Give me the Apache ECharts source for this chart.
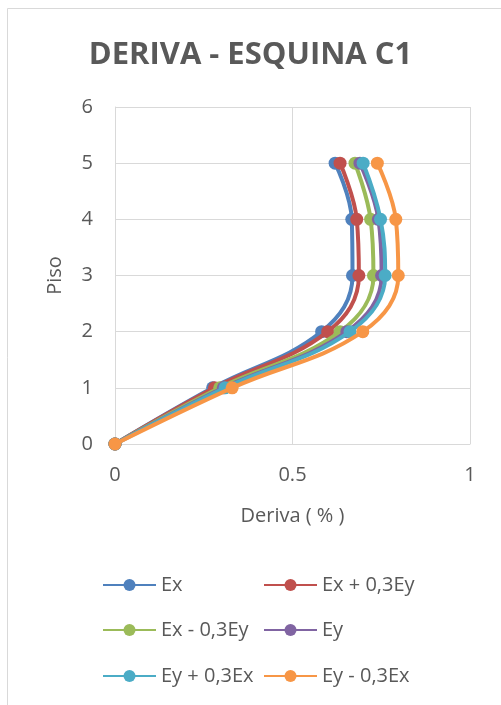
<!DOCTYPE html>
<html>
<head>
<meta charset="utf-8">
<script src="https://cdn.jsdelivr.net/npm/echarts@6/dist/echarts.min.js"></script>
<style>html,body{margin:0;padding:0;background:#fff}#c{width:501px;height:705px}</style>
</head>
<body>
<div id="c"></div>
<script>
var pisos = [0, 1, 2, 3, 4, 5];
var seriesNames = ['Ex', 'Ex + 0,3Ey', 'Ex - 0,3Ey', 'Ey', 'Ey + 0,3Ex', 'Ey - 0,3Ex'];
var ex      = [0, 0.275, 0.582, 0.669, 0.667, 0.620];
var exP03ey = [0, 0.280, 0.599, 0.687, 0.681, 0.634];
var exM03ey = [0, 0.295, 0.634, 0.728, 0.720, 0.676];
var ey      = [0, 0.305, 0.653, 0.751, 0.742, 0.690];
var eyP03ex = [0, 0.310, 0.662, 0.761, 0.748, 0.699];
var eyM03ex = [0, 0.330, 0.698, 0.798, 0.791, 0.739];
var xTicks = [0, 0.5, 1];
var yTicks = [0, 1, 2, 3, 4, 5, 6];
var colors = ['#4F81BD', '#C0504D', '#9BBB59', '#8064A2', '#4BACC6', '#F79646'];

var allVals = [ex, exP03ey, exM03ey, ey, eyP03ex, eyM03ex];
var font = '"Open Sans", sans-serif';
var txt = '#595959';

var series = allVals.map(function (vals, i) {
  return {
    name: seriesNames[i],
    type: 'line',
    smooth: 0.4,
    data: vals.map(function (v, k) { return [v, pisos[k]]; }),
    symbol: 'circle',
    symbolSize: 13,
    itemStyle: { color: colors[i] },
    lineStyle: { color: colors[i], width: 4 },
    z: 2 + i
  };
});

var legendPos = [
  [102, 575], [263, 575],
  [102, 620], [263, 620],
  [102, 666], [263, 666]
];
var legends = seriesNames.map(function (n, i) {
  return {
    data: [n],
    left: legendPos[i][0],
    top: legendPos[i][1],
    itemWidth: 53,
    itemHeight: 15,
    padding: 0,
    textStyle: { color: txt, fontSize: 20, fontFamily: font },
    selectedMode: false
  };
});

var chart = echarts.init(document.getElementById('c'));
chart.setOption({
  backgroundColor: '#fff',
  animation: false,
  title: {
    text: 'DERIVA - ESQUINA C1',
    left: 'center',
    top: 35,
    textStyle: { color: txt, fontSize: 31, fontWeight: 'bold', fontFamily: font }
  },
  graphic: [{
    type: 'rect',
    shape: { x: 7.5, y: 8.5, width: 520, height: 720 },
    style: { fill: 'none', stroke: '#d9d9d9', lineWidth: 1 },
    silent: true
  }],
  legend: legends,
  grid: { left: 115, top: 107, right: 31, bottom: 261 },
  xAxis: {
    type: 'value',
    min: xTicks[0],
    max: xTicks[xTicks.length - 1],
    interval: xTicks[1] - xTicks[0],
    name: 'Deriva ( % )',
    nameLocation: 'middle',
    nameGap: 62,
    nameTextStyle: { color: txt, fontSize: 20, fontFamily: font },
    axisLine: { show: true, lineStyle: { color: '#d9d9d9', width: 1 } },
    axisTick: { show: false },
    splitLine: { show: true, lineStyle: { color: '#d9d9d9', width: 1 } },
    axisLabel: { color: txt, fontSize: 20, fontFamily: font, margin: 21 }
  },
  yAxis: {
    type: 'value',
    min: yTicks[0],
    max: yTicks[yTicks.length - 1],
    interval: 1,
    name: 'Piso',
    nameLocation: 'middle',
    nameGap: 50,
    nameTextStyle: { color: txt, fontSize: 20, fontFamily: font },
    axisLine: { show: true, lineStyle: { color: '#d9d9d9', width: 1 } },
    axisTick: { show: false },
    splitLine: { show: true, lineStyle: { color: '#d9d9d9', width: 1 } },
    axisLabel: { color: txt, fontSize: 20, fontFamily: font, margin: 22 }
  },
  series: series
});
</script>
</body>
</html>
